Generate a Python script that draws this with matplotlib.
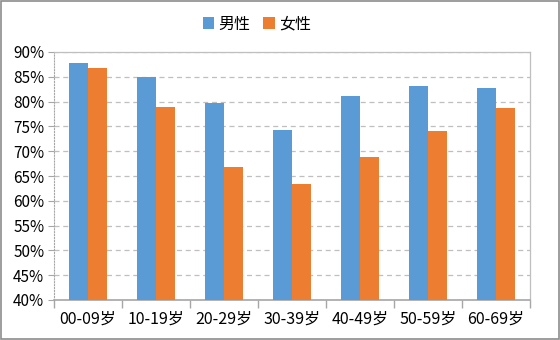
import matplotlib.pyplot as plt
from matplotlib.ticker import FuncFormatter, MultipleLocator
import numpy as np

plt.rcParams['font.family'] = ['Noto Sans CJK SC', 'DejaVu Sans']

# 各年龄段男女比例(%)
age_groups = ['00-09岁', '10-19岁', '20-29岁', '30-39岁', '40-49岁', '50-59岁', '60-69岁']
male = [87.8, 84.9, 79.8, 74.3, 81.2, 83.2, 82.8]
female = [86.8, 79.0, 66.9, 63.4, 68.9, 74.1, 78.8]

fig = plt.figure(figsize=(5.6, 3.4), dpi=100)
ax = fig.add_axes([54 / 560, 40 / 340, 476 / 560, 248 / 340])

x = np.arange(len(age_groups))
w = 0.28
ax.bar(x - w / 2, male, w, bottom=0, color='#5B9BD5', label='男性', zorder=3)
ax.bar(x + w / 2, female, w, bottom=0, color='#ED7D31', label='女性', zorder=3)

ax.set_xlim(-0.5, len(age_groups) - 0.5)
ax.set_ylim(40, 90)
ax.yaxis.set_major_locator(MultipleLocator(5))
ax.yaxis.set_major_formatter(FuncFormatter(lambda v, p: f'{v:.0f}%'))
ax.grid(axis='y', color='#BFBFBF', linestyle=(0, (4, 3)), linewidth=0.9, zorder=0)

ax.set_xticks(x)
ax.set_xticklabels(age_groups)
ax.set_xticks(np.arange(-0.5, len(age_groups)), minor=True)
ax.tick_params(axis='x', which='major', length=0, pad=8, labelsize=11.5, colors='#000000')
ax.tick_params(axis='x', which='minor', length=6, color='#A6A6A6', width=1)
ax.tick_params(axis='y', length=4, color='#A6A6A6', labelsize=11, pad=3)

for side in ['top', 'right']:
    ax.spines[side].set_color('#BFBFBF')
    ax.spines[side].set_linewidth(0.9)
ax.spines['bottom'].set_color('#A6A6A6')
ax.spines['bottom'].set_linewidth(1.2)
ax.spines['left'].set_color('#A6A6A6')
ax.spines['left'].set_linestyle(':')

fig.legend(loc='center', bbox_to_anchor=(257 / 560, 1 - 24 / 340), ncol=2, frameon=False,
           fontsize=11.5, handlelength=0.7, handleheight=0.7, handletextpad=0.3, columnspacing=0.8)

# 外边框
fig.patches.append(plt.Rectangle((0.001, 0.002), 0.997, 0.995, transform=fig.transFigure,
                                 fill=False, edgecolor='#8C8C8C', linewidth=1.2))

fig.savefig('out.png', dpi=100)
